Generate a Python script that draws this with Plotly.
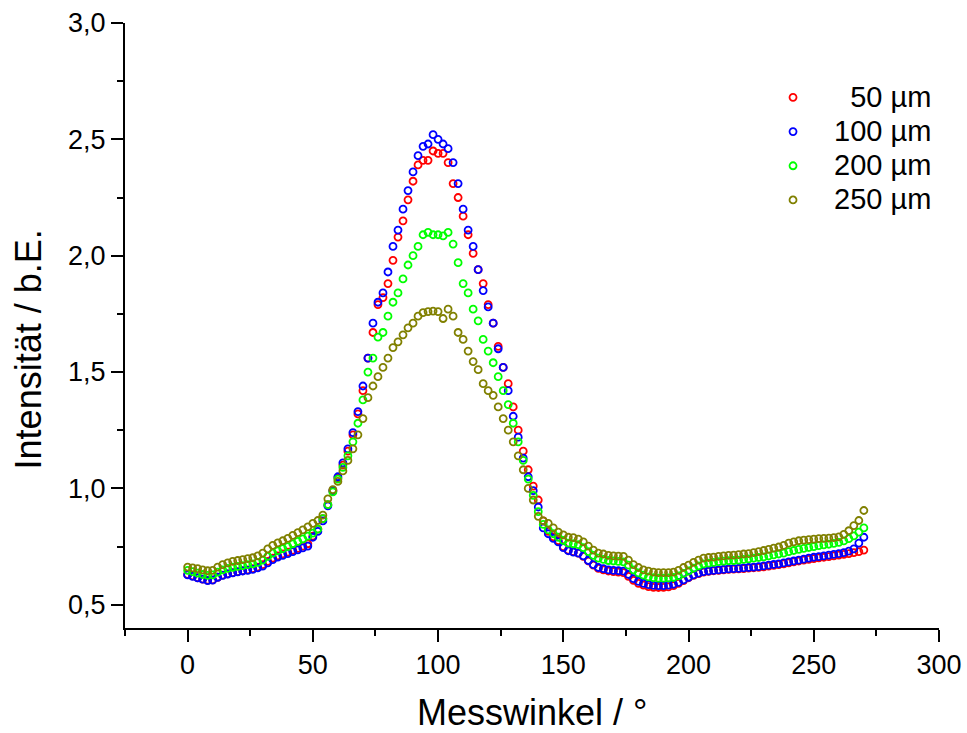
import plotly.graph_objects as go

# Messwinkel (degrees)
angles = list(range(0, 271, 2))

int_50 = [
    0.630, 0.624, 0.616, 0.610, 0.606, 0.607, 0.618, 0.627, 0.633, 0.638,
    0.642, 0.646, 0.650, 0.655, 0.662, 0.672, 0.686, 0.700, 0.710, 0.718,
    0.726, 0.734, 0.742, 0.752, 0.762, 0.795, 0.825, 0.870, 0.930, 0.990,
    1.045, 1.100, 1.160, 1.230, 1.320, 1.420, 1.560, 1.670, 1.790, 1.820,
    1.880, 1.980, 2.080, 2.150, 2.240, 2.320, 2.390, 2.410, 2.410, 2.450,
    2.440, 2.440, 2.400, 2.310, 2.250, 2.170, 2.090, 2.010, 1.940, 1.880,
    1.790, 1.710, 1.610, 1.520, 1.450, 1.350, 1.250, 1.160, 1.080, 1.010,
    0.950, 0.860, 0.815, 0.792, 0.775, 0.750, 0.735, 0.728, 0.722, 0.708,
    0.688, 0.670, 0.656, 0.650, 0.645, 0.642, 0.640, 0.638, 0.622, 0.605,
    0.592, 0.584, 0.578, 0.575, 0.574, 0.575, 0.577, 0.582, 0.592, 0.604,
    0.616, 0.626, 0.634, 0.640, 0.643, 0.646, 0.648, 0.650, 0.652, 0.653,
    0.654, 0.655, 0.657, 0.659, 0.661, 0.663, 0.666, 0.669, 0.672, 0.676,
    0.680, 0.684, 0.688, 0.692, 0.695, 0.698, 0.701, 0.704, 0.707, 0.710,
    0.713, 0.716, 0.720, 0.724, 0.728, 0.735,
]

int_100 = [
    0.628, 0.622, 0.615, 0.610, 0.604, 0.606, 0.618, 0.626, 0.632, 0.637,
    0.641, 0.645, 0.648, 0.652, 0.658, 0.666, 0.680, 0.694, 0.705, 0.712,
    0.720, 0.728, 0.736, 0.744, 0.752, 0.790, 0.815, 0.860, 0.925, 0.990,
    1.050, 1.110, 1.170, 1.240, 1.330, 1.440, 1.560, 1.710, 1.800, 1.840,
    1.930, 2.040, 2.110, 2.200, 2.280, 2.360, 2.430, 2.470, 2.480, 2.520,
    2.500, 2.480, 2.460, 2.400, 2.310, 2.200, 2.110, 2.040, 1.940, 1.850,
    1.780, 1.710, 1.600, 1.520, 1.420, 1.310, 1.220, 1.130, 1.050, 0.990,
    0.920, 0.830, 0.805, 0.785, 0.770, 0.745, 0.732, 0.726, 0.722, 0.710,
    0.690, 0.672, 0.660, 0.655, 0.650, 0.648, 0.646, 0.644, 0.630, 0.612,
    0.600, 0.592, 0.586, 0.583, 0.582, 0.582, 0.584, 0.588, 0.596, 0.607,
    0.618, 0.628, 0.636, 0.642, 0.645, 0.648, 0.650, 0.652, 0.654, 0.655,
    0.656, 0.658, 0.660, 0.662, 0.664, 0.667, 0.670, 0.673, 0.676, 0.680,
    0.684, 0.688, 0.692, 0.696, 0.700, 0.704, 0.707, 0.710, 0.713, 0.716,
    0.720, 0.724, 0.730, 0.740, 0.765, 0.790,
]

int_200 = [
    0.648, 0.642, 0.636, 0.630, 0.626, 0.628, 0.640, 0.650, 0.656, 0.661,
    0.665, 0.668, 0.672, 0.676, 0.682, 0.692, 0.708, 0.722, 0.732, 0.741,
    0.750, 0.762, 0.772, 0.783, 0.795, 0.808, 0.825, 0.870, 0.930, 0.985,
    1.040, 1.090, 1.140, 1.200, 1.280, 1.380, 1.500, 1.560, 1.650, 1.670,
    1.740, 1.800, 1.840, 1.900, 1.960, 2.000, 2.040, 2.090, 2.100, 2.090,
    2.090, 2.085, 2.100, 2.050, 1.970, 1.880, 1.840, 1.770, 1.720, 1.640,
    1.590, 1.540, 1.480, 1.420, 1.360, 1.280, 1.200, 1.120, 1.040, 0.970,
    0.900, 0.845, 0.822, 0.805, 0.790, 0.776, 0.765, 0.762, 0.758, 0.745,
    0.728, 0.712, 0.700, 0.695, 0.690, 0.688, 0.686, 0.684, 0.670, 0.650,
    0.637, 0.627, 0.620, 0.616, 0.614, 0.614, 0.615, 0.617, 0.624, 0.635,
    0.645, 0.657, 0.667, 0.675, 0.679, 0.682, 0.685, 0.687, 0.689, 0.690,
    0.692, 0.695, 0.697, 0.700, 0.703, 0.706, 0.710, 0.714, 0.718, 0.722,
    0.728, 0.733, 0.738, 0.742, 0.746, 0.750, 0.754, 0.757, 0.760, 0.764,
    0.768, 0.774, 0.784, 0.796, 0.812, 0.830,
]

int_250 = [
    0.662, 0.658, 0.655, 0.650, 0.646, 0.648, 0.662, 0.672, 0.680, 0.686,
    0.690, 0.694, 0.698, 0.702, 0.710, 0.722, 0.740, 0.755, 0.766, 0.775,
    0.785, 0.798, 0.810, 0.822, 0.835, 0.850, 0.862, 0.885, 0.955, 0.995,
    1.030, 1.075, 1.120, 1.170, 1.230, 1.300, 1.390, 1.440, 1.480, 1.520,
    1.560, 1.605, 1.630, 1.660, 1.690, 1.710, 1.740, 1.755, 1.760, 1.762,
    1.760, 1.730, 1.770, 1.740, 1.670, 1.640, 1.590, 1.545, 1.510, 1.450,
    1.420, 1.400, 1.350, 1.300, 1.250, 1.200, 1.140, 1.080, 1.000, 0.950,
    0.880, 0.860, 0.850, 0.830, 0.812, 0.800, 0.790, 0.788, 0.782, 0.770,
    0.752, 0.735, 0.722, 0.718, 0.712, 0.710, 0.709, 0.708, 0.692, 0.672,
    0.660, 0.650, 0.644, 0.640, 0.638, 0.638, 0.638, 0.640, 0.648, 0.660,
    0.670, 0.682, 0.692, 0.700, 0.703, 0.705, 0.708, 0.710, 0.712, 0.713,
    0.715, 0.718, 0.720, 0.724, 0.728, 0.733, 0.738, 0.743, 0.748, 0.755,
    0.765, 0.770, 0.775, 0.778, 0.780, 0.782, 0.784, 0.785, 0.786, 0.788,
    0.792, 0.802, 0.818, 0.840, 0.862, 0.905,
]

series_names = ["  50 µm", "100 µm", "200 µm", "250 µm"]
series_values = [int_50, int_100, int_200, int_250]
series_colors = ["#ff0000", "#0000ff", "#00ff00", "#808000"]

x_ticks = [0, 50, 100, 150, 200, 250, 300]
y_ticks = [0.5, 1.0, 1.5, 2.0, 2.5, 3.0]

FONT = "Liberation Sans, Arial, sans-serif"

fig = go.Figure()
for name, vals, col in zip(series_names, series_values, series_colors):
    fig.add_trace(go.Scatter(
        x=angles, y=vals, mode="markers",
        name='<span style="font-size:29px">' + name + "</span>",
        marker=dict(symbol="circle-open", size=7, color=col,
                    line=dict(width=1.8, color=col)),
    ))

axis_font = dict(family=FONT, size=27, color="black")

fig.update_layout(
    width=967, height=733,
    margin=dict(l=125, r=28, t=23, b=105),
    paper_bgcolor="white", plot_bgcolor="white",
    separators=",.",
    font=dict(family=FONT, color="black"),
    showlegend=True,
    legend=dict(
        x=0.7703, y=0.9136, xanchor="left", yanchor="top",
        font=dict(family=FONT, size=24, color="black"),
        itemwidth=72, bgcolor="rgba(0,0,0,0)", borderwidth=0,
    ),
    xaxis=dict(
        range=[-25, 300], tickvals=x_ticks, ticks="outside", ticklen=12, tickwidth=2,
        tickcolor="black", showline=True, linewidth=2, linecolor="black",
        mirror=False, showgrid=False, zeroline=False, tickfont=axis_font,
        automargin=False,
        minor=dict(dtick=25, tick0=0, ticks="outside", ticklen=6, tickwidth=2,
                   tickcolor="black", showgrid=False),
    ),
    yaxis=dict(
        range=[0.4, 3.0], tickvals=y_ticks, tickformat=".1f", ticks="outside",
        ticklen=12, tickwidth=2, tickcolor="black", showline=True, linewidth=2,
        linecolor="black", mirror=False, showgrid=False, zeroline=False,
        tickfont=axis_font, automargin=False,
        minor=dict(dtick=0.25, tick0=0, ticks="outside", ticklen=6, tickwidth=2,
                   tickcolor="black", showgrid=False),
    ),
    annotations=[
        dict(text="Messwinkel / °", xref="paper", yref="paper", x=0.5, y=-0.139,
             xanchor="center", yanchor="middle", showarrow=False,
             font=dict(family=FONT, size=36, color="black")),
        dict(text="Intensität / b.E.", xref="paper", yref="paper", x=-0.119, y=0.4607,
             xanchor="center", yanchor="middle", textangle=-90, showarrow=False,
             font=dict(family=FONT, size=36, color="black")),
    ],
)

fig.write_html("out.html")
